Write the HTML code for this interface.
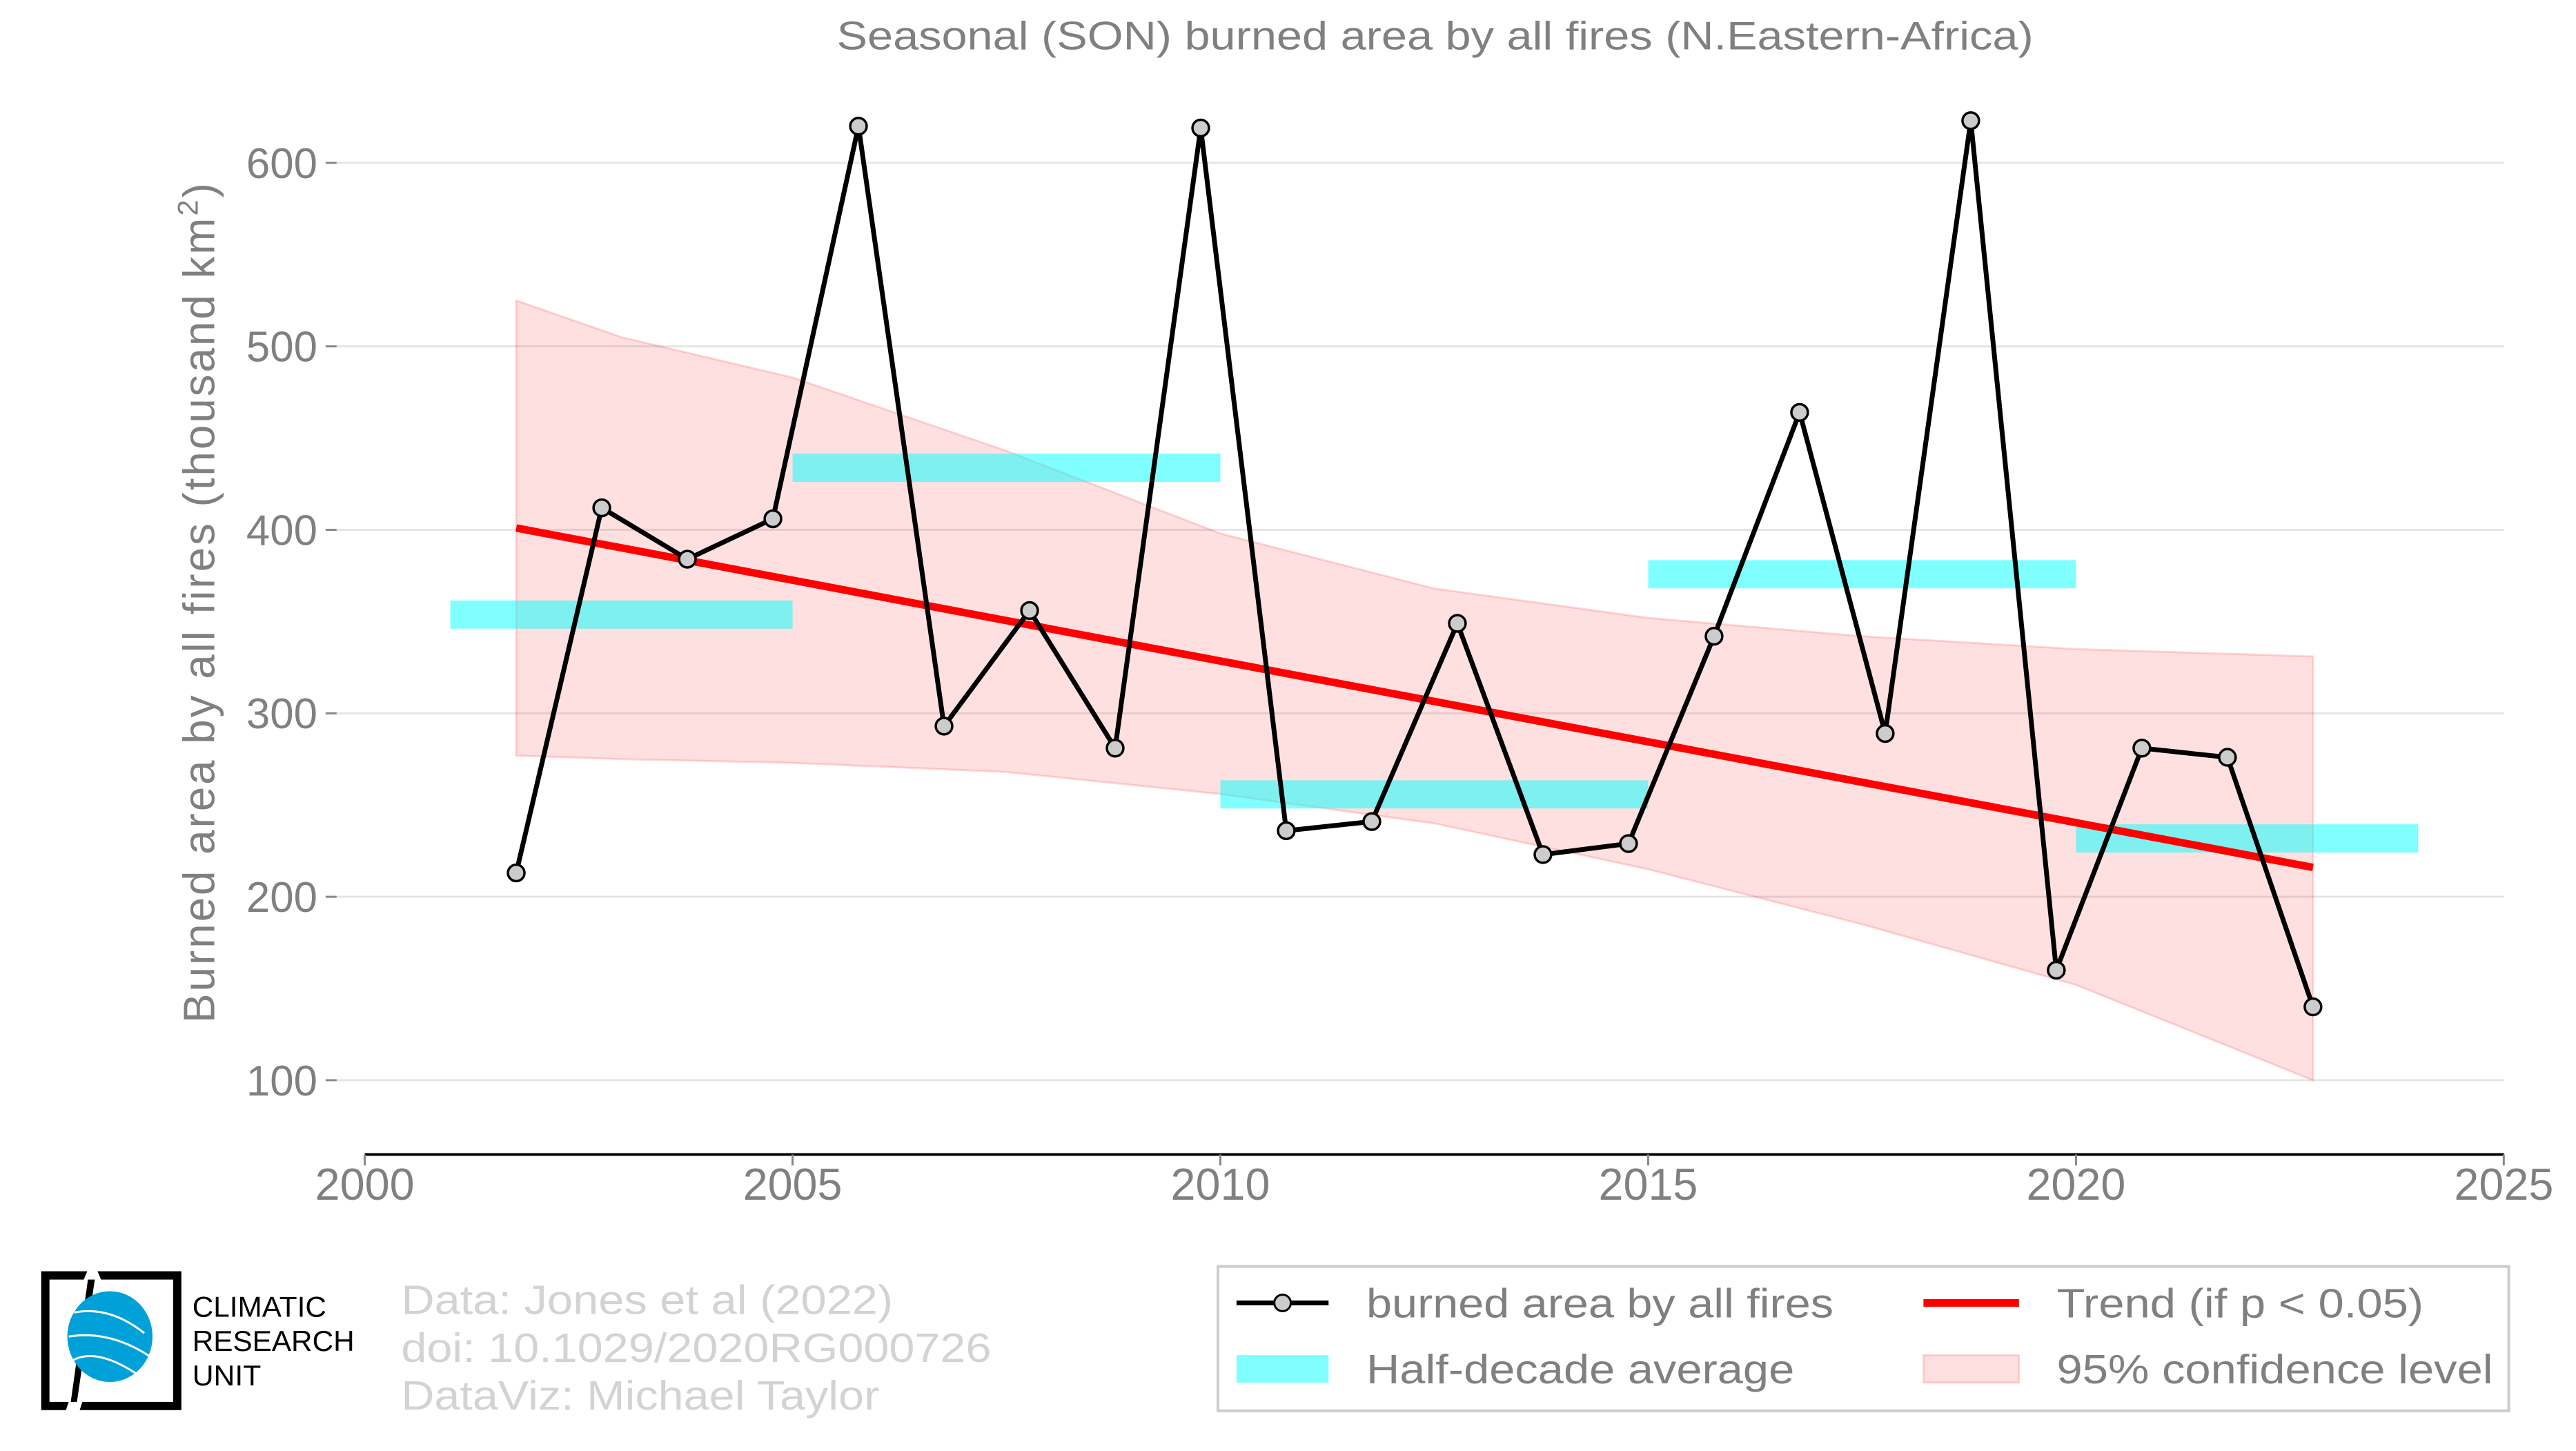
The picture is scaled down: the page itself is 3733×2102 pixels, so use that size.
<!DOCTYPE html>
<html><head><meta charset="utf-8"><style>
html,body{margin:0;padding:0;background:#fff;}
svg{display:block;font-family:"Liberation Sans",sans-serif;}
</style></head><body>
<svg id="chart" width="3733" height="2102" viewBox="0 0 3733 2102" xmlns="http://www.w3.org/2000/svg">
<rect width="3733" height="2102" fill="#fff"/>
<g transform="scale(0.9955)">
<text x="2089" y="72" font-size="58" fill="#808080" text-anchor="middle" textLength="1742" lengthAdjust="spacingAndGlyphs">Seasonal (SON) burned area by all fires (N.Eastern-Africa)</text>
<g id="grid"></g>
<g id="band"></g>
<g id="half"></g>
<g id="trend"></g>
<g id="series"></g>
<g id="axes"></g>
<text transform="translate(312,876) rotate(-90)" font-size="64" fill="#808080" text-anchor="middle" letter-spacing="3">Burned area by all fires (thousand km<tspan font-size="42" dy="-24">2</tspan><tspan dy="24">)</tspan></text>

<g>
<rect x="1773" y="1843" width="1879" height="210" fill="#fff" stroke="#ccc" stroke-width="4"/>
<g>
<line x1="1800" y1="1896" x2="1934" y2="1896" stroke="#000" stroke-width="7"/>
<circle cx="1867" cy="1896" r="12" fill="#ccc" stroke="#000" stroke-width="3"/>
<text x="1989" y="1917" font-size="60" fill="#808080" textLength="680" lengthAdjust="spacingAndGlyphs">burned area by all fires</text>
</g>
<g>
<rect x="1800" y="1972" width="134" height="40" fill="#00ffff" opacity="0.5"/>
<text x="1989" y="2013" font-size="60" fill="#808080" textLength="623" lengthAdjust="spacingAndGlyphs">Half-decade average</text>
</g>
<g>
<line x1="2800" y1="1896" x2="2939" y2="1896" stroke="#ff0000" stroke-width="11"/>
<text x="2994" y="1917" font-size="60" fill="#808080" textLength="534" lengthAdjust="spacingAndGlyphs">Trend (if p &lt; 0.05)</text>
</g>
<g>
<rect x="2800" y="1972" width="139" height="40" fill="rgba(255,0,0,0.12)" stroke="rgba(255,0,0,0.15)" stroke-width="3"/>
<text x="2994" y="2013" font-size="60" fill="#808080" textLength="635" lengthAdjust="spacingAndGlyphs">95% confidence level</text>
</g>
</g>

<g>
<path d="M60,1850 H127 L122,1862 H72 V2040 H100 L96,2052 H60 Z" fill="#000"/>
<path d="M142,1850 H264 V2052 H116 L120,2040 H252 V1862 H147 Z" fill="#000"/>
<path d="M128,1862 L138,1862 L112,2040 L103,2040 Z" fill="#000"/>
<ellipse cx="160" cy="1945" rx="62" ry="66" fill="#00a0d8"/>
<path d="M108,1910 Q160,1900 210,1940 M100,1945 Q160,1935 220,1975 M105,1980 Q140,1960 200,2000" stroke="#fff" stroke-width="3" fill="none"/>
<text x="280" y="1916" font-size="42" fill="#000" textLength="195" lengthAdjust="spacingAndGlyphs">CLIMATIC</text>
<text x="280" y="1966" font-size="42" fill="#000" textLength="236" lengthAdjust="spacingAndGlyphs">RESEARCH</text>
<text x="280" y="2016" font-size="42" fill="#000" textLength="100" lengthAdjust="spacingAndGlyphs">UNIT</text>
</g>
<g font-size="60" fill="#d3d3d3">
<text x="584" y="1912" textLength="716" lengthAdjust="spacingAndGlyphs">Data: Jones et al (2022)</text>
<text x="584" y="1982" textLength="859" lengthAdjust="spacingAndGlyphs">doi: 10.1029/2020RG000726</text>
<text x="584" y="2051" textLength="696" lengthAdjust="spacingAndGlyphs">DataViz: Michael Taylor</text>
</g>
</g>
<script>
const years = [2001.77,2002.77,2003.77,2004.77,2005.77,2006.77,2007.77,2008.77,2009.77,2010.77,2011.77,2012.77,2013.77,2014.77,2015.77,2016.77,2017.77,2018.77,2019.77,2020.77,2021.77,2022.77];
const values = [213,412,384,406,620,293,356,281,619,236,241,349,223,229,342,464,289,623,160,281,276,140];
const halfStart = [2001,2005,2010,2015,2020];
const halfEnd = [2005,2010,2015,2020,2024];
const halfValues = [354,434,256,376,232];
const trendYears = [2001.77,2022.77];
const trendValues = [401,216];
const bandYears = [2001.77,2003,2005,2007.5,2010,2012.5,2015,2017.5,2020,2022.77];
const bandUpper = [525,505,483,443,398,368,352,342,335,331];
const bandLower = [277,275,273,268,256,240,215,185,152,100];
const yTicks = [100,200,300,400,500,600];
const xTicks = [2000,2005,2010,2015,2020,2025];

const NS = "http://www.w3.org/2000/svg";
const X = v => 531 + (v - 2000) * 124.55;
const Y = v => 1572 - (v - 100) * 2.67;
function mk(tag, attrs, parent){const e=document.createElementNS(NS,tag);for(const k in attrs)e.setAttribute(k,attrs[k]);parent.appendChild(e);return e;}

const grid=document.getElementById('grid'), axes=document.getElementById('axes');
yTicks.forEach(t=>{
  const g=mk('line',{x1:490,x2:3645,y1:Y(t),y2:Y(t),stroke:'#e5e5e5','stroke-width':3},grid);
  
  
  const tk=mk('line',{x1:474,x2:490,y1:Y(t),y2:Y(t),stroke:'#888','stroke-width':3},axes);
  
  
  const l=mk('text',{x:462,y:Y(t)+22,'font-size':62,fill:'#808080','text-anchor':'end'},axes);
  l.textContent=t;
  
  
});
const ax=mk('line',{x1:531,x2:3645,y1:1680,y2:1680,stroke:'#000','stroke-width':4},axes);


xTicks.forEach(t=>{
  const tk=mk('line',{x1:X(t),x2:X(t),y1:1680,y2:1696,stroke:'#888','stroke-width':3},axes);
  
  
  const l=mk('text',{x:X(t),y:1746,'font-size':65,fill:'#808080','text-anchor':'middle'},axes);
  l.textContent=t;
  
  
});

let d='';
bandYears.forEach((yr,i)=>{d+=(i?'L':'M')+X(yr)+','+Y(bandUpper[i]);});
for(let i=bandYears.length-1;i>=0;i--){d+='L'+X(bandYears[i])+','+Y(bandLower[i]);}
const band=mk('path',{d:d+'Z',fill:'rgba(255,0,0,0.12)',stroke:'rgba(255,0,0,0.15)','stroke-width':3},document.getElementById('band'));



const half=document.getElementById('half');
halfValues.forEach((v,i)=>{
  const r=mk('rect',{x:X(halfStart[i]),y:Y(v)-20,width:X(halfEnd[i])-X(halfStart[i]),height:41,fill:'#00ffff',opacity:0.5},half);
  
  
});

const tl=mk('line',{x1:X(trendYears[0]),y1:Y(trendValues[0]),x2:X(trendYears[1]),y2:Y(trendValues[1]),stroke:'#ff0000','stroke-width':11},document.getElementById('trend'));



const ser=document.getElementById('series');
const pl=mk('polyline',{points:years.map((yr,i)=>X(yr)+','+Y(values[i])).join(' '),fill:'none',stroke:'#000','stroke-width':7,'stroke-linejoin':'round'},ser);


years.forEach((yr,i)=>{
  const c=mk('circle',{cx:X(yr),cy:Y(values[i]),r:12,fill:'#ccc',stroke:'#000','stroke-width':3.5},ser);
  
  
});
</script>
</svg>
</body></html>
